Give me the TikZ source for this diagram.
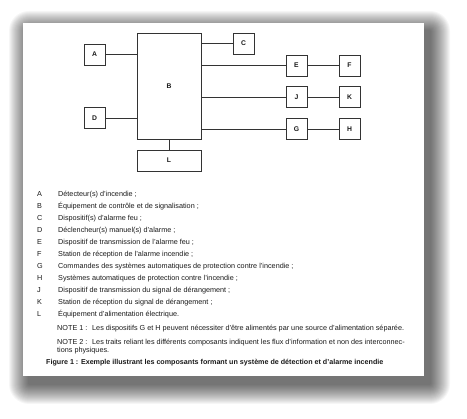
\documentclass[tikz,border=0pt]{standalone}
\usepackage{fontspec}
\setmainfont{Liberation Sans}
\definecolor{ink}{HTML}{1A1A1A}
\definecolor{rule}{HTML}{333333}
\tikzset{
  box/.style={draw=rule, line width=0.7pt, fill=white, inner sep=0pt, font=\fontsize{6.8}{8}\selectfont\bfseries, text=ink},
  sq/.style={box, minimum width=21pt, minimum height=21pt},
  wide/.style={box, minimum width=64pt},
  link/.style={draw=rule, line width=0.7pt},
  item/.style={anchor=base west, inner sep=0pt, font=\fontsize{7.25}{8}\selectfont, text=ink},
  figcaption/.style={item, font=\fontsize{7.15}{8}\selectfont\bfseries},
}
\begin{document}
\begin{tikzpicture}[x=1pt,y=-1pt]
\useasboundingbox (0,0) rectangle (467,419);
\fill[white] (0,0) rectangle (467,419);
% blurred drop shadow of the page
\foreach \r in {1,...,20}{
  \fill[black, opacity=0.036, rounded corners=\r pt] (29-\r,31-\r) rectangle (430+\r,384+\r);
}
\fill[white] (23,23) rectangle (424,376);

% diagram
\node[sq] (A) at (94.5,54.5) {A};
\node[sq] (D) at (94.5,118) {D};
\node[wide, minimum height=106pt] (B) at (169,86) {B};
\node[sq] (C) at (243.5,43.5) {C};
\node[sq] (E) at (296.5,65.5) {E};
\node[sq] (F) at (349.5,65.5) {F};
\node[sq] (J) at (296.5,97) {J};
\node[sq] (K) at (349.5,97) {K};
\node[sq] (G) at (296.5,129) {G};
\node[sq] (H) at (349.5,129) {H};
\node[wide, minimum height=21pt] (L) at (169,160.5) {L};

\path[link] (A.east) -- (A.east -| B.west);
\path[link] (D.east) -- (D.east -| B.west);
\path[link] (C.west) -- (C.west -| B.east);
\path[link] (E.west) -- (E.west -| B.east);
\path[link] (J.west) -- (J.west -| B.east);
\path[link] (G.west) -- (G.west -| B.east);
\path[link] (E) -- (F);
\path[link] (J) -- (K);
\path[link] (G) -- (H);
\path[link] (B.south) -- (L.north);

% legend
\node[item] (kA) at (37,196.5) {A};
\node[item] (tA) at (58,196.5) {Détecteur(s) d'incendie ;};
\node[item] (kB) at (37,208.5) {B};
\node[item] (tB) at (58,208.5) {Équipement de contrôle et de signalisation ;};
\node[item] (kC) at (37,220.5) {C};
\node[item] (tC) at (58,220.5) {Dispositif(s) d'alarme feu ;};
\node[item] (kD) at (37,232.5) {D};
\node[item] (tD) at (58,232.5) {Déclencheur(s) manuel(s) d'alarme ;};
\node[item] (kE) at (37,244.5) {E};
\node[item] (tE) at (58,244.5) {Dispositif de transmission de l'alarme feu ;};
\node[item] (kF) at (37,256.5) {F};
\node[item] (tF) at (58,256.5) {Station de réception de l'alarme incendie ;};
\node[item] (kG) at (37,268.5) {G};
\node[item] (tG) at (58,268.5) {Commandes des systèmes automatiques de protection contre l'incendie ;};
\node[item] (kH) at (37,280.5) {H};
\node[item] (tH) at (58,280.5) {Systèmes automatiques de protection contre l'incendie ;};
\node[item] (kJ) at (37,292.5) {J};
\node[item] (tJ) at (58,292.5) {Dispositif de transmission du signal de dérangement ;};
\node[item] (kK) at (37,304.5) {K};
\node[item] (tK) at (58,304.5) {Station de réception du signal de dérangement ;};
\node[item] (kL) at (37,316.5) {L};
\node[item] (tL) at (58,316.5) {Équipement d'alimentation électrique.};

\node[item] (n1) at (57,330.5) {NOTE 1 :};
\node[item] (n1t) at (92,330.5) {Les dispositifs G et H peuvent nécessiter d'être alimentés par une source d'alimentation séparée.};
\node[item] (n2) at (57,344.5) {NOTE 2 :};
\node[item] (n2t) at (92,344.5) {Les traits reliant les différents composants indiquent les flux d'information et non des interconnec-};
\node[item] (n2u) at (57,352.5) {tions physiques.};

\node[figcaption] (fig) at (46,364.8) {Figure 1 : Exemple illustrant les composants formant un système de détection et d'alarme incendie};
\end{tikzpicture}
\end{document}
